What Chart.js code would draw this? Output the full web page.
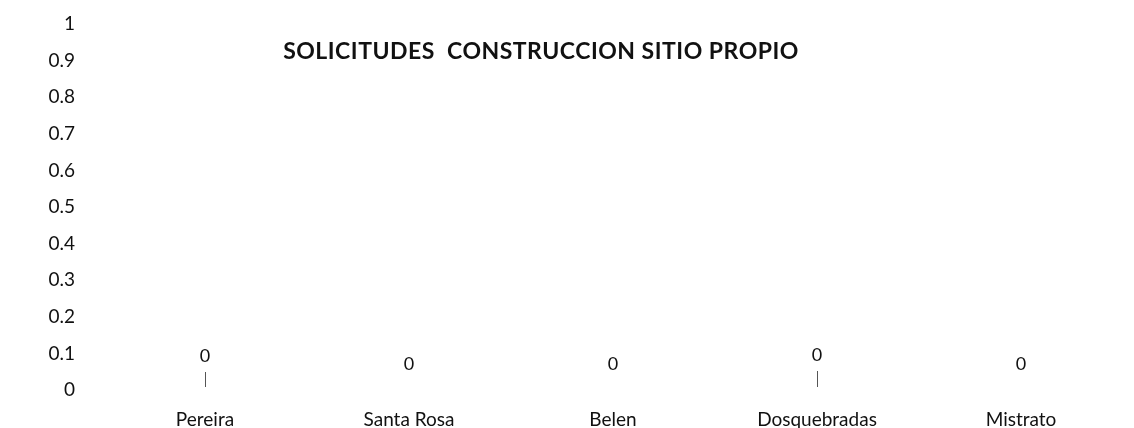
<!DOCTYPE html>
<html lang="es">
<head>
<meta charset="UTF-8">
<title>Solicitudes Construccion Sitio Propio</title>
<script src="https://cdn.jsdelivr.net/npm/chart.js"></script>
<style>
  html, body { margin: 0; padding: 0; background: #fff; }
  #wrap { width: 1134px; height: 428px; }
</style>
</head>
<body>
<div id="wrap"><canvas id="grafica"></canvas></div>
<script>
// datos
const municipios = ['Pereira', 'Santa Rosa', 'Belen', 'Dosquebradas', 'Mistrato'];
const solicitudes = [0, 0, 0, 0, 0];
const tituloTexto = 'SOLICITUDES  CONSTRUCCION SITIO PROPIO';

const fuente = 'Lato, "Open Sans", sans-serif';

// etiquetas de valor y titulo dibujados a mano
const etiquetas = {
  id: 'etiquetas',
  afterDatasetsDraw(chart) {
    const ctx = chart.ctx;
    const meta = chart.getDatasetMeta(0);
    const subir = [34, 26, 26, 35, 26]; // los rotulos del original no estan alineados
    ctx.save();
    ctx.fillStyle = '#111';
    ctx.textAlign = 'center';
    ctx.textBaseline = 'middle';
    meta.data.forEach((bar, i) => {
      ctx.font = '18px ' + fuente;
      ctx.fillText(String(solicitudes[i]), bar.x, bar.y - subir[i]);
      if (subir[i] > 30) {
        // linea guia del rotulo desplazado
        ctx.strokeStyle = '#555';
        ctx.lineWidth = 1;
        ctx.beginPath();
        ctx.moveTo(bar.x + 0.5, bar.y - subir[i] + 16);
        ctx.lineTo(bar.x + 0.5, bar.y - 3);
        ctx.stroke();
      }
    });
    ctx.font = 'bold 23px ' + fuente;
    ctx.letterSpacing = '0.5px';
    ctx.fillText(tituloTexto, 541, 52);
    ctx.restore();
  }
};

new Chart(document.getElementById('grafica'), {
  type: 'bar',
  data: {
    labels: municipios,
    datasets: [{
      data: solicitudes,
      backgroundColor: '#4f81bd'
    }]
  },
  plugins: [etiquetas],
  options: {
    responsive: true,
    maintainAspectRatio: false,
    animation: false,
    layout: { padding: { top: 24, right: 11, bottom: 0, left: 0 } },
    plugins: {
      legend: { display: false },
      title: { display: false },
      tooltip: { enabled: false }
    },
    scales: {
      x: {
        grid: { display: false, drawTicks: false },
        border: { display: false },
        ticks: { color: '#111', font: { family: fuente, size: 19 }, padding: 18, maxRotation: 0 },
        afterFit(scale) { scale.height = 38; }
      },
      y: {
        min: 0,
        max: 1,
        grid: { display: false, drawTicks: false },
        border: { display: false },
        ticks: {
          stepSize: 0.1,
          color: '#111',
          font: { family: fuente, size: 19 },
          padding: 28,
          callback: v => String(Math.round(v * 10) / 10)
        },
        afterFit(scale) {
          scale.width = 103;
          // el padding de las marcas no debe empujar el area hacia dentro
          scale.paddingTop = 0;
          scale.paddingBottom = 0;
        }
      }
    }
  }
});
</script>
</body>
</html>
